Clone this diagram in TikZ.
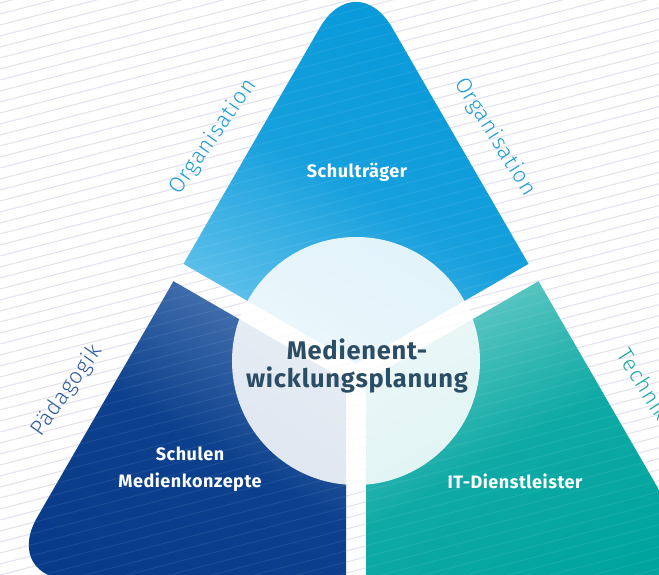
\documentclass[tikz,border=0pt]{standalone}
\usepackage{fontspec}
\setmainfont{Fira Sans}[LetterSpace=3]
\newfontfamily\lblfont{Fira Sans}[UprightFont=* Light, LetterSpace=4]
\definecolor{bgline}{HTML}{E4E0EF}
\definecolor{topA}{HTML}{0799DA}
\definecolor{topB}{HTML}{66C4EC}
\definecolor{leftA}{HTML}{083C8A}
\definecolor{leftB}{HTML}{4A76B2}
\definecolor{rightA}{HTML}{00A49F}
\definecolor{rightB}{HTML}{66CAC6}
\definecolor{centertext}{HTML}{2C4D66}
\definecolor{orgblue}{HTML}{1E9CD7}
\definecolor{paedblue}{HTML}{2F5C9E}
\definecolor{techteal}{HTML}{1AA9A2}
\tikzset{
  bgstripe/.style={draw=bgline, line width=1pt},
  overstripe/.style={draw=white, line width=1pt, opacity=0.07},
  tri/.style={rounded corners=72.7pt},
  lbl/.style={font=\lblfont\fontsize{22}{26}\selectfont, inner sep=0pt},
  piecetext/.style={text=white, font=\bfseries\fontsize{18}{26.7}\selectfont, align=center, inner sep=0pt},
  maintext/.style={text=centertext, font=\bfseries\fontsize{25.5}{28.5}\selectfont, align=center, inner sep=0pt}
}
\begin{document}
\begin{tikzpicture}[x=1pt,y=-1pt]
\useasboundingbox (0,0) rectangle (659,575);
\clip (0,0) rectangle (659,575);
\fill[white] (0,0) rectangle (659,575);
% background stripes
\foreach \k in {0,...,70} \draw[bgstripe] (0,3+11*\k) -- (659,3+11*\k-171.3);
% the three pieces of the rounded triangle
\begin{scope}
  \clip[tri] (178.5,272.5) -- (1,580) -- (711,580) -- (356,-35) -- cycle;
  \begin{scope}
    \clip (356,363.5) -- ++(-866,-500) -- ++(1732,0) -- cycle;
    \shade[top color=topA, bottom color=topB, middle color=topA!85!topB, shading angle=-30] (170,0) rectangle (545,370);
  \end{scope}
  \begin{scope}
    \clip (346,380.8) -- ++(-866,-500) -- (-600,700) -- (346,700) -- cycle;
    \shade[top color=leftB, bottom color=leftA, middle color=leftA!93!leftB, shading angle=-30] (0,275) rectangle (350,585);
  \end{scope}
  \begin{scope}
    \clip (366,380.8) -- ++(866,-500) -- (1300,700) -- (366,700) -- cycle;
    \shade[top color=rightB, bottom color=rightA, middle color=rightA!85!rightB, shading angle=30] (362,275) rectangle (715,585);
  \end{scope}
  \foreach \k in {0,...,70} \draw[overstripe] (0,3+11*\k) -- (659,3+11*\k-171.3);
\end{scope}
% centre circle
\fill[white, opacity=0.87] (356,361) circle[radius=124];
% texts
\node[maintext] (mep) at (357,366) {Medienent-\\wicklungsplanung};
\node[piecetext] (st) at (357,172) {Schulträger};
\node[piecetext] (sm) at (190,469) {Schulen\\Medienkonzepte};
\node[piecetext] (it) at (515,481) {IT-Dienstleister};
\node[lbl, text=orgblue, rotate=55] (org1) at (213,137) {Organisation};
\node[lbl, text=orgblue, rotate=-58] (org2) at (495,137) {Organisation};
\node[lbl, text=paedblue, rotate=55] (paed) at (67,391) {Pädagogik};
\node[lbl, text=techteal, rotate=-58] (tech) at (644,384) {Technik};
\end{tikzpicture}
\end{document}
